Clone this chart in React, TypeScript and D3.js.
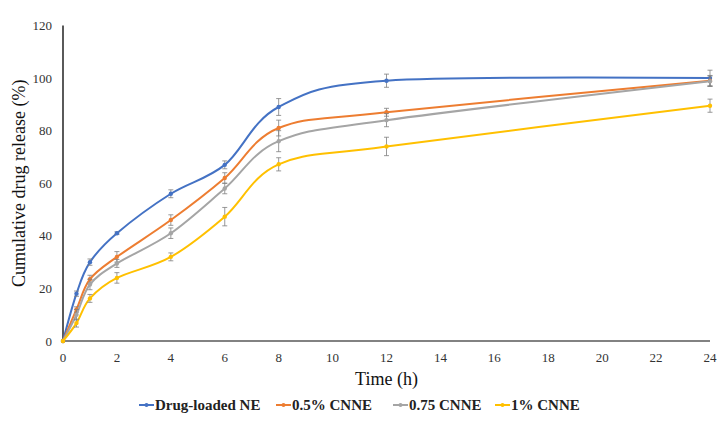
import React, { useEffect, useRef } from 'react';
import * as d3 from 'd3';

const times = [0, 0.5, 1, 2, 4, 6, 8, 12, 24];

const seriesNames = ['Drug-loaded NE', '0.5% CNNE', '0.75 CNNE', '1% CNNE'];
const seriesColors = ['#4472C4', '#ED7D31', '#A5A5A5', '#FFC000'];

const drugLoadedNE = [0, 18, 30, 41, 56, 67, 89, 99, 100];
const cnne05 = [0, 12, 23.5, 32, 46, 62, 81, 87, 99];
const cnne075 = [0, 10, 21.5, 29.5, 41, 58, 76, 84, 98.8];
const cnne1 = [0, 6.8, 16.2, 24, 32, 47.3, 67.2, 74, 89.5];

const errDrugLoadedNE = [0, 1, 1.2, 0.5, 1.5, 1.5, 3.2, 2.5, 3];
const errCnne05 = [0, 1, 1.5, 2, 2, 2, 3, 1.5, 2];
const errCnne075 = [0, 2, 2, 1.5, 2, 2, 4, 2.5, 2];
const errCnne1 = [0, 1.5, 1.5, 2, 1.5, 3.5, 2.5, 3.5, 2.5];

const xTicks = [0, 2, 4, 6, 8, 10, 12, 14, 16, 18, 20, 22, 24];
const yTicks = [0, 20, 40, 60, 80, 100, 120];

const allValues = [drugLoadedNE, cnne05, cnne075, cnne1];
const allErrors = [errDrugLoadedNE, errCnne05, errCnne075, errCnne1];

const Chart: React.FC = () => {
  const svgRef = useRef<SVGSVGElement>(null);

  useEffect(() => {
    if (!svgRef.current) return;
    const svg = d3.select(svgRef.current);
    svg.selectAll('*').remove();

    const font = '"Liberation Serif", "Times New Roman", serif';
    const x = d3.scaleLinear().domain([0, 24]).range([63, 710]);
    const y = d3.scaleLinear().domain([0, 120]).range([341, 25.5]);

    // axes
    svg.append('line')
      .attr('x1', x(0)).attr('x2', x(24))
      .attr('y1', y(0)).attr('y2', y(0))
      .attr('stroke', '#595959').attr('stroke-width', 1.3);
    svg.append('line')
      .attr('x1', x(0)).attr('x2', x(0))
      .attr('y1', y(0)).attr('y2', y(120))
      .attr('stroke', '#000').attr('stroke-width', 1.3);

    svg.append('g').selectAll('text')
      .data(yTicks).enter().append('text')
      .attr('x', 52).attr('y', d => y(d))
      .attr('dy', '0.35em')
      .attr('text-anchor', 'end')
      .style('font-family', font).style('font-size', '13px').style('fill', '#333')
      .text(d => d);

    svg.append('g').selectAll('text')
      .data(xTicks).enter().append('text')
      .attr('x', d => x(d)).attr('y', 362)
      .attr('text-anchor', 'middle')
      .style('font-family', font).style('font-size', '13px').style('fill', '#333')
      .text(d => d);

    svg.append('text')
      .attr('x', x(12)).attr('y', 385)
      .attr('text-anchor', 'middle')
      .style('font-family', font).style('font-size', '18px').style('fill', '#111')
      .text('Time (h)');

    svg.append('text')
      .attr('transform', `translate(25,${y(60)}) rotate(-90)`)
      .attr('text-anchor', 'middle')
      .style('font-family', font).style('font-size', '18px').style('fill', '#111')
      .text('Cumulative drug release (%)');

    const line = d3.line<number>()
      .x((_, i) => x(times[i]))
      .y(d => y(d))
      .curve(d3.curveCardinal.tension(0));

    allValues.forEach((vals, s) => {
      const g = svg.append('g');
      g.append('path')
        .datum(vals)
        .attr('d', line)
        .attr('fill', 'none')
        .attr('stroke', seriesColors[s])
        .attr('stroke-width', 2);

      const errs = allErrors[s];
      vals.forEach((v, i) => {
        const e = errs[i];
        if (e <= 0) return;
        const cx = x(times[i]);
        g.append('path')
          .attr('d', `M${cx},${y(v - e)}V${y(v + e)}M${cx - 2.5},${y(v - e)}H${cx + 2.5}M${cx - 2.5},${y(v + e)}H${cx + 2.5}`)
          .attr('stroke', '#7f7f7f').attr('stroke-width', 0.8).attr('fill', 'none');
      });

      g.selectAll('circle')
        .data(vals).enter().append('circle')
        .attr('cx', (_, i) => x(times[i]))
        .attr('cy', d => y(d))
        .attr('r', 2.2)
        .attr('fill', seriesColors[s]);
    });

    // legend
    const legendX = [139, 276, 393, 495];
    const legend = svg.append('g');
    seriesNames.forEach((name, s) => {
      const lx = legendX[s];
      legend.append('line')
        .attr('x1', lx).attr('x2', lx + 15)
        .attr('y1', 405).attr('y2', 405)
        .attr('stroke', seriesColors[s]).attr('stroke-width', 2);
      legend.append('circle')
        .attr('cx', lx + 7.5).attr('cy', 405).attr('r', 2)
        .attr('fill', seriesColors[s]);
      legend.append('text')
        .attr('x', lx + 16).attr('y', 405)
        .attr('dy', '0.35em')
        .style('font-family', font).style('font-size', '15px')
        .style('font-weight', 'bold').style('fill', '#222')
        .text(name);
    });
  }, []);

  return <svg ref={svgRef} width={728} height={425} style={{ display: 'block' }} />;
};

export default function App() {
  return (
    <div style={{ position: 'absolute', left: 0, top: 0, background: '#fff' }}>
      <Chart />
    </div>
  );
}
